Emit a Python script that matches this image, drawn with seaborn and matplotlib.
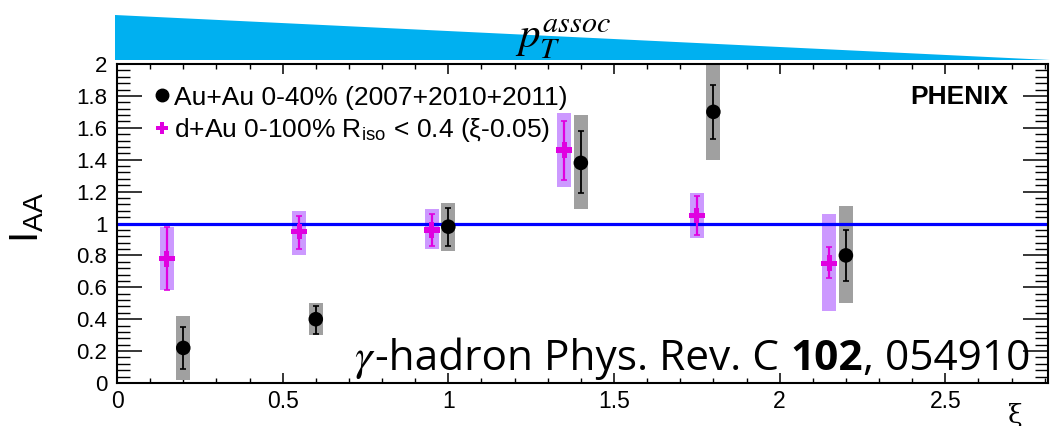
import numpy as np
import matplotlib
matplotlib.use("Agg")
import matplotlib.pyplot as plt
import seaborn as sns
import pandas as pd
from matplotlib.patches import Polygon
from matplotlib.lines import Line2D
from matplotlib.ticker import MultipleLocator

# ---------------- data ----------------
xi_au = [0.2, 0.6, 1.0, 1.4, 1.8, 2.2]
iaa_au = [0.22, 0.40, 0.98, 1.38, 1.70, 0.80]
stat_lo_au = [0.09, 0.31, 0.86, 1.19, 1.53, 0.64]
stat_hi_au = [0.35, 0.48, 1.10, 1.58, 1.87, 0.96]
sys_lo_au = [0.02, 0.30, 0.83, 1.09, 1.40, 0.50]
sys_hi_au = [0.42, 0.50, 1.13, 1.68, 2.05, 1.11]

xi_da = [0.15, 0.55, 0.95, 1.35, 1.75, 2.15]
iaa_da = [0.78, 0.95, 0.96, 1.46, 1.05, 0.75]
stat_lo_da = [0.58, 0.84, 0.86, 1.27, 0.93, 0.66]
stat_hi_da = [0.98, 1.05, 1.06, 1.64, 1.17, 0.85]
sys_lo_da = [0.58, 0.80, 0.84, 1.23, 0.91, 0.45]
sys_hi_da = [0.98, 1.08, 1.09, 1.69, 1.19, 1.06]

xticks = [0, 0.5, 1, 1.5, 2, 2.5]
xtick_labels = ["0", "0.5", "1", "1.5", "2", "2.5"]
yticks = [0, 0.2, 0.4, 0.6, 0.8, 1, 1.2, 1.4, 1.6, 1.8, 2]
ytick_labels = ["0", "0.2", "0.4", "0.6", "0.8", "1", "1.2", "1.4", "1.6", "1.8", "2"]

label_au = "Au+Au 0-40% (2007+2010+2011)"
label_da = r"d+Au 0-100% R$_{\mathregular{iso}}$ < 0.4 (ξ-0.05)"

# ---------------- style ----------------
sns.set_theme(style="ticks")
plt.rcParams["font.family"] = ["Liberation Sans", "DejaVu Sans"]
plt.rcParams["mathtext.fontset"] = "stix"
plt.rcParams["text.color"] = "black"
plt.rcParams["axes.labelcolor"] = "black"
plt.rcParams["xtick.color"] = "black"
plt.rcParams["ytick.color"] = "black"

W, H = 1058, 426
fig = plt.figure(figsize=(W / 100, H / 100), dpi=100)
ax = fig.add_axes([117 / W, 1 - 383 / H, (1048 - 117) / W, (383 - 64) / H])

df_au = pd.DataFrame({"xi": xi_au, "iaa": iaa_au})
df_da = pd.DataFrame({"xi": xi_da, "iaa": iaa_da})

gray_box = "#a0a0a0"
purple_box = "#cc99ff"
magenta = "#e000e0"
bw = 0.042

# systematic boxes
ax.bar(xi_da, np.array(sys_hi_da) - np.array(sys_lo_da), bottom=sys_lo_da,
       width=bw, color=purple_box, edgecolor="none", zorder=1)
ax.bar(xi_au, np.array(sys_hi_au) - np.array(sys_lo_au), bottom=sys_lo_au,
       width=bw, color=gray_box, edgecolor="none", zorder=1)

# reference line
ax.axhline(1.0, color="#0000ff", lw=2.3, zorder=2)

# statistical errors
ax.errorbar(xi_da, iaa_da,
            yerr=[np.array(iaa_da) - np.array(stat_lo_da), np.array(stat_hi_da) - np.array(iaa_da)],
            fmt="none", ecolor=magenta, elinewidth=1.6, capsize=2.5, capthick=1.2, zorder=3)
ax.errorbar(xi_au, iaa_au,
            yerr=[np.array(iaa_au) - np.array(stat_lo_au), np.array(stat_hi_au) - np.array(iaa_au)],
            fmt="none", ecolor="black", elinewidth=1.3, capsize=2.5, capthick=1.2, zorder=3)

# markers
sns.scatterplot(data=df_da, x="xi", y="iaa", marker="P", s=130, color=magenta,
                edgecolor="none", ax=ax, zorder=4, legend=False)
sns.scatterplot(data=df_au, x="xi", y="iaa", marker="o", s=110, color="black",
                edgecolor="none", ax=ax, zorder=4, legend=False)

ax.set_xlim(0, 2.81)
ax.set_ylim(0, 2.0)

ax.set_xticks(xticks)
ax.set_xticklabels(xtick_labels)
ax.set_yticks(yticks)
ax.set_yticklabels(ytick_labels)
ax.xaxis.set_minor_locator(MultipleLocator(0.1))
ax.yaxis.set_minor_locator(MultipleLocator(0.04))

ax.tick_params(axis="x", which="major", direction="in", top=True, length=7.5, width=1.1,
               labelsize=16.5, pad=5, colors="black")
ax.tick_params(axis="x", which="minor", direction="in", top=True, length=3.8, width=1.0,
               colors="black")
ax.tick_params(axis="y", which="major", direction="in", right=True, length=18, width=1.1,
               labelsize=16, pad=7, colors="black")
ax.tick_params(axis="y", which="minor", direction="in", right=True, length=9.5, width=1.0,
               colors="black")

for sp in ax.spines.values():
    sp.set_linewidth(1.5)
    sp.set_color("black")

ax.set_xlabel("ξ", fontsize=19, family=["DejaVu Serif"], color="black")
ax.xaxis.set_label_coords(0.965, -0.062)
ax.set_ylabel(r"I$_{\mathregular{AA}}$", fontsize=29, color="black")
ax.yaxis.set_label_coords(-0.076, 0.52)

# legend
handles = [
    Line2D([], [], marker="o", linestyle="none", color="black", markersize=9),
    Line2D([], [], marker="P", linestyle="none", color=magenta, markersize=9, markeredgewidth=0),
]
leg = ax.legend(handles, [label_au, label_da], loc="upper left", bbox_to_anchor=(0.03, 0.965),
                frameon=False, fontsize=19, handlelength=0.5, handletextpad=0.2,
                labelspacing=0.25, borderaxespad=0.0, labelcolor="black")

# annotations
ax.text(0.957, 0.895, "PHENIX", transform=ax.transAxes, ha="right", va="center",
        fontsize=19, fontweight="bold", color="black")

# citation text built from pieces
fig.canvas.draw()
renderer = fig.canvas.get_renderer()
pieces = [(r"$\gamma$", dict(family=["DejaVu Sans"], fontsize=32)),
          ("-hadron Phys. Rev. C ", dict(family=["Open Sans"], fontsize=30.5)),
          ("102", dict(family=["Open Sans"], fontsize=30.5, fontweight="bold")),
          (", 054910", dict(family=["Open Sans"], fontsize=30.5))]
widths = []
for s, kw in pieces:
    tt = fig.text(0, 0, s, **kw)
    bb = tt.get_window_extent(renderer)
    widths.append(bb.width)
    tt.remove()
right_px = 1030
x = right_px - sum(widths)
base_y = 1 - 370 / H
for (s, kw), w in zip(pieces, widths):
    fig.text(x / W, base_y, s, va="baseline", ha="left", color="black", **kw)
    x += w

# top wedge
wedge = Polygon([(115 / W, 1 - 15 / H), (115 / W, 1 - 60 / H), (1050 / W, 1 - 60 / H)],
                closed=True, transform=fig.transFigure, color="#00b0f0", lw=0)
fig.add_artist(wedge)
fig.text(563 / W, 1 - 48 / H, r"$p_{T}^{assoc}$", ha="center", va="baseline", fontsize=31,
         color="black")

fig.savefig("out.png", dpi=100)
